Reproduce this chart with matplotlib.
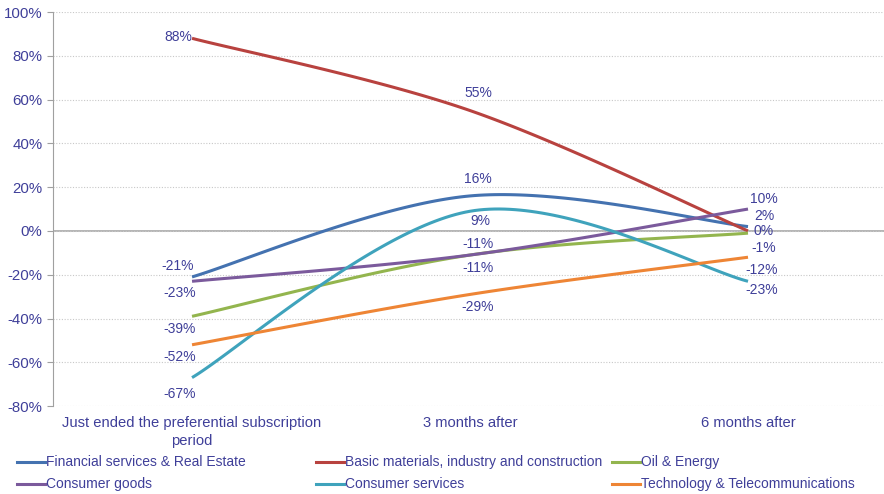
import numpy as np
import matplotlib
matplotlib.use("Agg")
import matplotlib.pyplot as plt
from matplotlib.lines import Line2D

plt.rcParams['font.family'] = ['Liberation Sans Narrow', 'Liberation Sans', 'DejaVu Sans']

# datos
categorias = ["Just ended the preferential subscription\nperiod", "3 months after", "6 months after"]
series = [
    "Financial services & Real Estate",
    "Basic materials, industry and construction",
    "Oil & Energy",
    "Consumer goods",
    "Consumer services",
    "Technology & Telecommunications",
]
financial = [-21, 16, 2]
basic = [88, 55, 0]
oil = [-39, -11, -1]
consumer_goods = [-23, -11, 10]
consumer_services = [-67, 9, -23]
technology = [-52, -29, -12]
valores = [financial, basic, oil, consumer_goods, consumer_services, technology]

colores = ["#4472B0", "#B8423F", "#93B54E", "#7B5A9C", "#3FA3BC", "#EE8535"]
color_texto = "#3F3F99"

# desplazamientos de las etiquetas (pixeles) por serie y categoria
offsets = [
    [(-14, 11), (8, 17), (16, 11)],
    [(-14, 1), (8, 18), (16, 0)],
    [(-12, -13), (8, -13), (16, -15)],
    [(-12, -12), (8, 11), (16, 10)],
    [(-12, -16), (10, -10), (14, -9)],
    [(-12, -12), (8, -13), (14, -13)],
]


def suavizar(x, y, n=60):
    # curva tipo Catmull-Rom (similar al suavizado de Excel)
    x = np.asarray(x, float)
    y = np.asarray(y, float)
    xs, ys = [], []
    for i in range(len(x) - 1):
        p0 = (x[i - 1], y[i - 1]) if i > 0 else (x[i], y[i])
        p1 = (x[i], y[i])
        p2 = (x[i + 1], y[i + 1])
        p3 = (x[i + 2], y[i + 2]) if i + 2 < len(x) else (x[i + 1], y[i + 1])
        c1 = (p1[0] + (p2[0] - p0[0]) / 6, p1[1] + (p2[1] - p0[1]) / 6)
        c2 = (p2[0] - (p3[0] - p1[0]) / 6, p2[1] - (p3[1] - p1[1]) / 6)
        t = np.linspace(0, 1, n)
        bx = (1 - t) ** 3 * p1[0] + 3 * (1 - t) ** 2 * t * c1[0] + 3 * (1 - t) * t ** 2 * c2[0] + t ** 3 * p2[0]
        by = (1 - t) ** 3 * p1[1] + 3 * (1 - t) ** 2 * t * c1[1] + 3 * (1 - t) * t ** 2 * c2[1] + t ** 3 * p2[1]
        xs.extend(bx)
        ys.extend(by)
    return np.array(xs), np.array(ys)


fig = plt.figure(figsize=(8.84, 4.94), dpi=100)
ax = fig.add_axes([0.06, 0.178, 0.9434, 0.7976])

x = np.arange(len(categorias))
for nombre, vals, col, offs in zip(series, valores, colores, offsets):
    xs, ys = suavizar(x, vals)
    ax.plot(xs, ys, color=col, lw=2.2, solid_capstyle='butt', zorder=3)
    for xi, v, off in zip(x, vals, offs):
        ax.annotate(f"{v}%", (xi, v), xytext=off, textcoords='offset pixels',
                    ha='center', va='center', fontsize=10, color=color_texto, zorder=4)

ax.set_xlim(-0.5, 2.5)
ax.set_ylim(-80, 100)
ax.set_yticks(np.arange(-80, 101, 20))
ax.set_yticklabels([f"{v}%" for v in range(-80, 101, 20)])
ax.set_xticks(x)
ax.set_xticklabels(categorias, linespacing=1.35)
ax.tick_params(axis='y', colors='#A0A0A0', labelcolor=color_texto, labelsize=10.8, length=4, width=0.8)
ax.tick_params(axis='x', length=0, labelcolor=color_texto, labelsize=10.6, pad=7)
ax.grid(axis='y', linestyle=(0, (1, 1.5)), color='#C8C8C8', lw=0.8, zorder=0)
ax.axhline(0, color='#A8A8A8', lw=1.2, zorder=1)
for s in ['top', 'right', 'bottom']:
    ax.spines[s].set_visible(False)
ax.spines['left'].set_color('#A0A0A0')

# leyenda manual en dos filas y tres columnas
col_x = [17, 316, 612]
fila_y = [462, 484]
for i, (nombre, col) in enumerate(zip(series, colores)):
    cx = col_x[i % 3] / 884
    cy = 1 - fila_y[i // 3] / 494
    fig.add_artist(Line2D([cx, cx + 28 / 884], [cy, cy], color=col, lw=2.2, transform=fig.transFigure))
    fig.text(cx + 29 / 884, cy, nombre, fontsize=10, color=color_texto, va='center', ha='left')

fig.savefig("out.png", dpi=100)
